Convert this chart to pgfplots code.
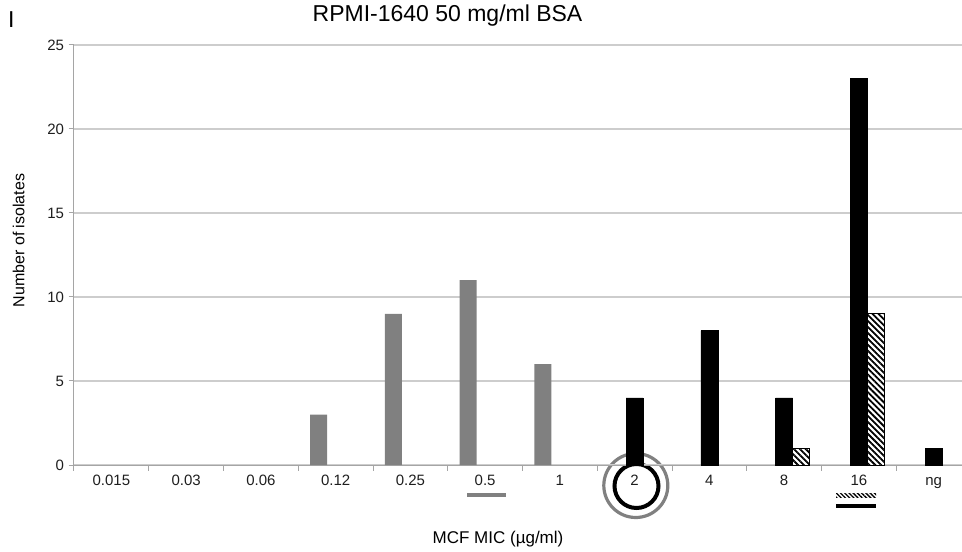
\documentclass[border=0pt]{standalone}
\usepackage{fontspec}
\setmainfont{Liberation Sans}
\usepackage{pgfplots}
\pgfplotsset{compat=1.18}
\usetikzlibrary{patterns.meta}
\definecolor{barGray}{RGB}{128,128,128}
\definecolor{gridGray}{RGB}{205,205,205}
\definecolor{axisGray}{RGB}{165,165,165}
\definecolor{textGray}{RGB}{30,30,30}
\begin{document}
\begin{tikzpicture}[x=1pt,y=1pt]
\useasboundingbox (0,0) rectangle (962,552);
% circles around the "2" label (behind the bars)
\draw[barGray, line width=3.2pt] (635.8,66.5) circle (32);
\draw[black, line width=4pt] (636.5,66) circle (22);
\begin{axis}[
  at={(74pt,87pt)}, anchor=south west, scale only axis,
  width=897pt, height=420pt,
  xmin=-0.5, xmax=11.5, ymin=0, ymax=25,
  axis x line*=bottom, axis y line*=left,
  axis line style={axisGray, line width=1pt, -},
  tick align=outside, major tick length=5.5pt,
  tick style={axisGray, line width=1pt},
  ytick={0,5,...,25},
  ymajorgrids, grid style={gridGray, line width=1.2pt},
  xtick={-0.5,0.5,...,11.5},
  xticklabels={,,,,,,,,,,,,,},
  extra x ticks={0,1,2,3,4,5,6,7,8,9,10,11},
  extra x tick labels={0.015,0.03,0.06,0.12,0.25,0.5,1,2,4,8,16,ng},
  extra x tick style={major tick length=0pt,
    xticklabel style={yshift=-6pt, text height=10.8pt, text depth=3pt}},
  /pgf/number format/assume math mode=true,
  tick label style={font=\fontsize{15}{17}\selectfont, text=textGray},
  yticklabel style={xshift=-1pt},
  title={RPMI-1640 50 mg/ml BSA},
  title style={at={(axis description cs:0.4164,1.0405)}, anchor=base,
    font=\fontsize{23}{27}\selectfont, inner sep=0pt},
  xlabel={MCF MIC (µg/ml)},
  xlabel style={at={(axis description cs:0.4727,-0.188)}, anchor=base,
    font=\fontsize{17}{20}\selectfont, inner sep=0pt},
  ylabel={Number of isolates},
  ylabel style={at={(axis description cs:-0.0552,0.5345)}, anchor=base,
    rotate=0, font=\fontsize{16}{19}\selectfont, inner sep=0pt},
]
\addplot[ybar, bar width=17pt, bar shift=-17pt, fill=barGray, draw=none]
  coordinates {(3,3) (4,9) (5,11) (6,6)};
\addplot[ybar, bar width=17pt, bar shift=0pt, fill=black, draw=black]
  coordinates {(7,4) (8,8) (9,4) (10,23) (11,1)};
\addplot[ybar, bar width=17pt, bar shift=17pt, fill=white, draw=black, line width=0.8pt,
  postaction={pattern={Lines[angle=-45,distance=4.2pt,line width=1.8pt]}, pattern color=black}]
  coordinates {(9,1) (10,9)};
\end{axis}
% underline marks
\fill[barGray] (467,55) rectangle (506,59);
\path[pattern={Lines[angle=-45,distance=3pt,line width=1.3pt]}, pattern color=black] (836,54) rectangle (876,58);
\fill[black] (836,43.5) rectangle (876,47.5);
% panel label
\node[anchor=base west, inner sep=0pt, font=\fontsize{23}{27}\selectfont] at (8,524) {I};
\end{tikzpicture}
\end{document}
